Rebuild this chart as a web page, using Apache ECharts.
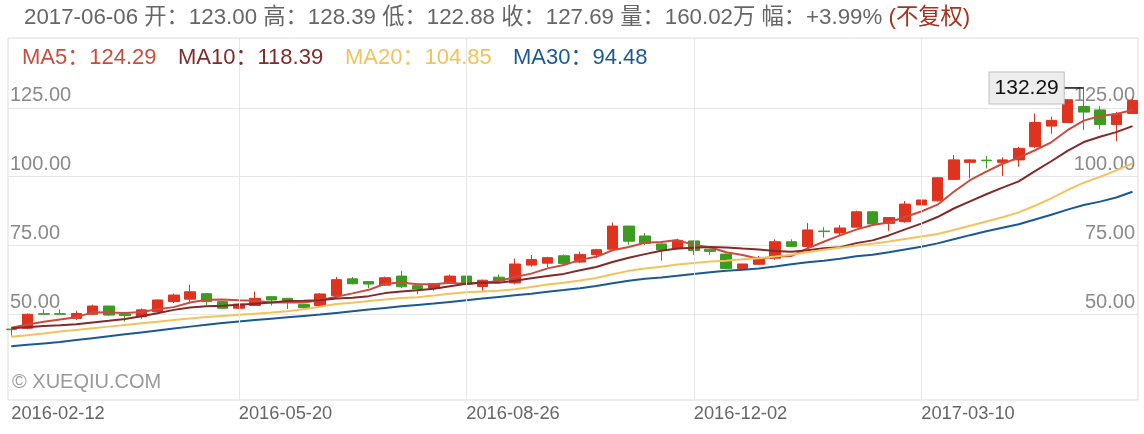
<!DOCTYPE html>
<html><head><meta charset="utf-8">
<script src="https://cdn.jsdelivr.net/npm/echarts@6/dist/echarts.min.js"></script>
<style>html,body{margin:0;padding:0;background:#fff}#c{width:1144px;height:434px}</style>
</head><body><div id="c"></div>
<script>
// ---------------- data ----------------
const dates = [
'2016-02-12','2016-02-19','2016-02-26','2016-03-04','2016-03-11','2016-03-18','2016-03-24','2016-04-01','2016-04-08','2016-04-15',
'2016-04-22','2016-04-29','2016-05-06','2016-05-13','2016-05-20','2016-05-27','2016-06-03','2016-06-10','2016-06-17','2016-06-24',
'2016-07-01','2016-07-08','2016-07-15','2016-07-22','2016-07-29','2016-08-05','2016-08-12','2016-08-19','2016-08-26','2016-09-02',
'2016-09-09','2016-09-16','2016-09-23','2016-09-30','2016-10-07','2016-10-14','2016-10-21','2016-10-28','2016-11-04','2016-11-11',
'2016-11-18','2016-11-25','2016-12-02','2016-12-09','2016-12-16','2016-12-23','2016-12-30','2017-01-06','2017-01-13','2017-01-20',
'2017-01-27','2017-02-03','2017-02-10','2017-02-17','2017-02-24','2017-03-03','2017-03-10','2017-03-17','2017-03-24','2017-03-31',
'2017-04-07','2017-04-13','2017-04-21','2017-04-28','2017-05-05','2017-05-12','2017-05-19','2017-05-26','2017-06-02','2017-06-06'];
const opens = [44.5, 44.8, 50.1, 50.1, 48.4, 49.9, 52.9, 50.0, 49.0, 50.8,
54.5, 55.4, 57.4, 54.5, 52.1, 53.1, 56.3, 55.7, 53.5, 53.1,
56.7, 62.8, 61.8, 60.5, 63.8, 60.3, 59.4, 61.2, 63.8, 60.0,
63.4, 61.3, 67.8, 68.5, 71.2, 68.9, 71.6, 73.6, 82.0, 78.4,
75.5, 73.8, 76.6, 73.6, 71.8, 66.6, 68.1, 70.3, 76.3, 74.6,
80.2, 79.5, 81.6, 87.2, 83.0, 83.6, 89.7, 91.2, 99.0, 105.2,
106.0, 105.2, 106.1, 110.9, 118.4, 119.7, 125.5, 124.3, 119.0, 123.00];
const closes = [44.3, 49.9, 49.9, 49.9, 50.2, 52.9, 49.6, 49.4, 51.5, 55.1,
56.9, 58.1, 54.5, 52.1, 53.6, 55.7, 55.1, 54.5, 52.3, 57.3,
62.5, 61.0, 60.9, 63.2, 59.9, 59.1, 61.0, 63.8, 60.8, 62.3,
62.2, 68.2, 69.8, 70.5, 68.4, 71.7, 73.4, 82.0, 76.5, 75.7,
73.3, 76.8, 73.1, 72.8, 66.6, 68.2, 69.9, 76.3, 74.6, 80.6,
80.0, 81.3, 87.2, 82.8, 85.1, 90.0, 91.5, 99.6, 106.1, 106.1,
105.8, 106.1, 110.3, 119.7, 120.5, 128.0, 123.5, 119.0, 122.8, 127.69];
const lows = [42.1, 44.4, 49.7, 49.7, 47.8, 49.6, 49.3, 47.2, 48.3, 50.5,
54.0, 53.9, 53.3, 52.0, 51.9, 52.9, 53.1, 51.8, 52.0, 52.9,
56.4, 60.8, 59.4, 60.2, 59.4, 57.2, 58.5, 61.0, 60.6, 58.4,
62.0, 60.8, 67.2, 67.1, 68.2, 68.6, 70.3, 73.3, 75.2, 75.1,
69.4, 73.5, 71.5, 71.5, 66.4, 66.0, 67.9, 69.7, 74.4, 74.0,
77.8, 78.4, 81.5, 82.6, 80.3, 83.2, 89.1, 90.9, 98.8, 99.4,
103.0, 100.2, 103.6, 110.5, 115.6, 119.5, 117.0, 117.2, 112.9, 122.88];
const highs = [44.6, 50.2, 51.7, 51.7, 51.2, 53.4, 53.0, 50.1, 52.0, 55.3,
57.4, 60.6, 57.5, 54.6, 53.8, 58.2, 56.4, 55.8, 53.6, 57.6,
63.5, 63.5, 61.9, 63.6, 65.7, 60.5, 61.3, 64.3, 64.0, 62.5,
64.4, 70.1, 71.5, 70.8, 71.7, 72.7, 73.7, 83.3, 82.1, 79.5,
75.6, 77.4, 76.8, 73.7, 72.0, 68.3, 71.1, 77.2, 77.2, 83.1,
81.6, 82.4, 87.6, 87.5, 85.3, 91.1, 92.1, 99.8, 107.9, 106.3,
107.5, 107.0, 110.9, 123.0, 121.8, 128.3, 132.29, 125.7, 123.6, 128.39];
const ma5 = [45.0, 46.2, 47.2, 48.0, 48.8, 50.6, 50.5, 50.4, 50.7, 51.7,
52.5, 54.2, 55.2, 55.3, 55.0, 54.8, 54.2, 54.2, 54.2, 55.0,
56.3, 57.5, 58.8, 61.0, 61.5, 60.8, 60.8, 61.4, 60.9, 61.4,
62.0, 63.5, 64.7, 66.6, 67.8, 69.7, 70.8, 73.2, 74.4, 75.9,
76.2, 76.9, 75.1, 74.3, 72.5, 71.5, 70.1, 70.8, 71.1, 73.9,
76.3, 78.6, 80.7, 82.4, 83.3, 85.3, 87.3, 89.8, 94.5, 98.7,
101.8, 104.7, 106.9, 109.6, 112.5, 116.9, 120.4, 122.1, 122.8, 124.29];
const ma10 = [44.8, 45.2, 45.6, 45.9, 46.3, 46.9, 47.5, 48.2, 49.2, 50.3,
51.5, 52.4, 52.8, 53.0, 53.4, 53.7, 54.2, 54.7, 54.8, 55.0,
55.6, 55.9, 56.5, 57.6, 58.2, 58.6, 59.2, 60.1, 61.0, 61.5,
61.4, 62.1, 63.0, 63.8, 64.6, 65.9, 67.1, 68.9, 70.5, 71.8,
73.0, 73.8, 74.1, 74.4, 74.2, 73.8, 73.5, 72.9, 72.7, 73.2,
73.9, 74.3, 75.8, 76.8, 78.6, 80.8, 82.9, 85.3, 88.4, 91.0,
93.6, 96.0, 98.3, 102.0, 105.6, 109.4, 112.6, 114.5, 116.2, 118.39];
const ma20 = [41.7, 42.3, 42.9, 43.6, 44.2, 44.8, 45.4, 46.0, 46.6, 47.2,
47.8, 48.4, 48.9, 49.3, 49.7, 50.1, 50.5, 51.0, 51.7, 52.6,
53.6, 54.1, 54.7, 55.3, 55.8, 56.1, 56.7, 57.4, 57.9, 58.2,
58.5, 59.0, 59.8, 60.7, 61.4, 62.2, 63.1, 64.5, 65.7, 66.6,
67.2, 68.0, 68.6, 69.1, 69.4, 69.9, 70.3, 70.9, 71.6, 72.5,
73.4, 74.1, 74.9, 75.6, 76.4, 77.3, 78.2, 79.1, 80.6, 82.1,
83.7, 85.2, 87.0, 89.4, 92.1, 95.1, 97.8, 99.9, 102.3, 104.85];
const ma30 = [38.3, 38.8, 39.3, 39.8, 40.5, 41.2, 41.9, 42.6, 43.3, 44.0,
44.7, 45.4, 46.1, 46.7, 47.3, 47.8, 48.3, 48.8, 49.3, 49.8,
50.4, 51.0, 51.6, 52.2, 52.8, 53.3, 53.8, 54.4, 55.0, 55.6,
56.2, 56.8, 57.4, 58.1, 58.7, 59.4, 60.2, 61.2, 62.1, 62.8,
63.3, 63.9, 64.6, 65.2, 65.7, 66.1, 66.6, 67.3, 68.1, 68.8,
69.4, 70.1, 71.0, 71.6, 72.5, 73.5, 74.5, 75.7, 77.2, 78.7,
80.1, 81.4, 82.7, 84.4, 86.1, 88.0, 89.7, 90.9, 92.4, 94.48];
const yTicks = [50, 75, 100, 125];
const xLabelDates = ['2016-02-12','2016-05-20','2016-08-26','2016-12-02','2017-03-10'];
const maNames = ['MA5','MA10','MA20','MA30'];
const volumeText = '160.02万';
const changeText = '+3.99%';
const adjustText = '(不复权)';
const copyrightText = '© XUEQIU.COM';

// ---------------- styles ----------------
const FONT = "'Liberation Sans','Noto Sans CJK SC',sans-serif";
const UP = '#e0331f', DOWN = '#3c9c22';
const maColors = ['#cc4b3f', '#822a2a', '#f3c25c', '#1b5996'];
const GRIDC = '#e6e6e6';
const Y_MIN = 18.69, Y_MAX = 150.47;

const candleData = dates.map((d, i) => [opens[i], closes[i], lows[i], highs[i]]);
const maData = [ma5, ma10, ma20, ma30];
const last = dates.length - 1;

const chart = echarts.init(document.getElementById('c'), null, {renderer: 'canvas'});

const headerStr = '{g|' + dates[last] + ' 开：' + opens[last].toFixed(2) + ' 高：' + highs[last].toFixed(2) +
  ' 低：' + lows[last].toFixed(2) + ' 收：' + closes[last].toFixed(2) + ' 量：' + volumeText + ' 幅：' + changeText + ' }{r|' + adjustText + '}';

const legendX = [22, 178, 345, 513];
const graphics = [
  {type: 'text', left: 24, top: 7, z: 10, style: {text: headerStr, font: '22.3px ' + FONT,
    rich: {g: {fill: '#666', fontSize: 22.3, fontFamily: FONT}, r: {fill: '#a8321c', fontSize: 22.3, fontFamily: FONT}}}},
  {type: 'text', left: 12, top: 372, z: 10, style: {text: copyrightText, fill: '#9a9a9a', font: '20px ' + FONT}}
];
maNames.forEach((n, k) => {
  graphics.push({type: 'text', left: legendX[k], top: 47, z: 10,
    style: {text: n + '：' + maData[k][last].toFixed(2), fill: maColors[k], font: '22px ' + FONT}});
});

const yLabelCommon = {inside: true, customValues: yTicks, formatter: v => v.toFixed(2), color: '#8a8a8a',
  fontSize: 20, fontFamily: FONT, verticalAlign: 'bottom', padding: [0, 0, 2, 0]};

const option = {
  animation: false,
  backgroundColor: '#fff',
  grid: [
    {left: 8, top: 38, width: 1130, height: 362, show: true, borderColor: '#dcdcdc', borderWidth: 1, backgroundColor: 'transparent'},
    {left: 3.125, top: 38, width: 1137.5, height: 362}
  ],
  xAxis: [
    {gridIndex: 0, type: 'value', show: false},
    {gridIndex: 1, type: 'category', data: dates, boundaryGap: true,
      axisLine: {show: false}, axisTick: {show: false}, splitLine: {show: false},
      axisLabel: {interval: (i, v) => xLabelDates.indexOf(v) >= 0, align: 'left', margin: 5,
        color: '#666', fontSize: 18.3, fontFamily: FONT}}
  ],
  yAxis: [
    {gridIndex: 0, type: 'value', min: Y_MIN, max: Y_MAX, position: 'left',
      axisLine: {show: false}, axisTick: {show: false, customValues: yTicks},
      axisLabel: Object.assign({margin: 2}, yLabelCommon),
      splitLine: {show: true, lineStyle: {color: GRIDC, width: 1}}},
    {gridIndex: 0, type: 'value', min: Y_MIN, max: Y_MAX, position: 'right',
      axisLine: {show: false}, axisTick: {show: false, customValues: yTicks},
      axisLabel: Object.assign({margin: 3}, yLabelCommon),
      splitLine: {show: false}},
    {gridIndex: 1, type: 'value', min: Y_MIN, max: Y_MAX, show: false}
  ],
  series: [
    {type: 'line', xAxisIndex: 1, yAxisIndex: 2, data: dates.map(() => null), z: 1, silent: true,
      markLine: {silent: true, symbol: ['none', 'none'], label: {show: false},
        lineStyle: {color: GRIDC, type: 'solid', width: 1},
        data: xLabelDates.slice(1).map(d => ({xAxis: d}))}},
    {type: 'candlestick', name: 'K', xAxisIndex: 1, yAxisIndex: 2, data: candleData, barWidth: 11, z: 3,
      itemStyle: {color: UP, color0: DOWN, borderColor: UP, borderColor0: DOWN, borderWidth: 1},
      markPoint: {symbol: 'rect', symbolSize: [20, 1.5], symbolOffset: [-10, 0], itemStyle: {color: '#111'},
        label: {show: true, position: 'left', distance: 0, formatter: p => Number(p.value).toFixed(2),
          color: '#111', fontSize: 21, fontFamily: FONT, backgroundColor: '#ededed', borderColor: '#bdbdbd',
          borderWidth: 1, padding: [5, 5, 5, 5]},
        data: [{type: 'max', valueDim: 'highest'}]}}
  ].concat(maNames.map((n, k) => ({
    type: 'line', name: n, xAxisIndex: 1, yAxisIndex: 2, data: maData[k], showSymbol: false, smooth: false,
    z: 4, lineStyle: {color: maColors[k], width: 2}, itemStyle: {color: maColors[k]}
  }))),
  graphic: graphics
};
chart.setOption(option);
</script></body></html>
